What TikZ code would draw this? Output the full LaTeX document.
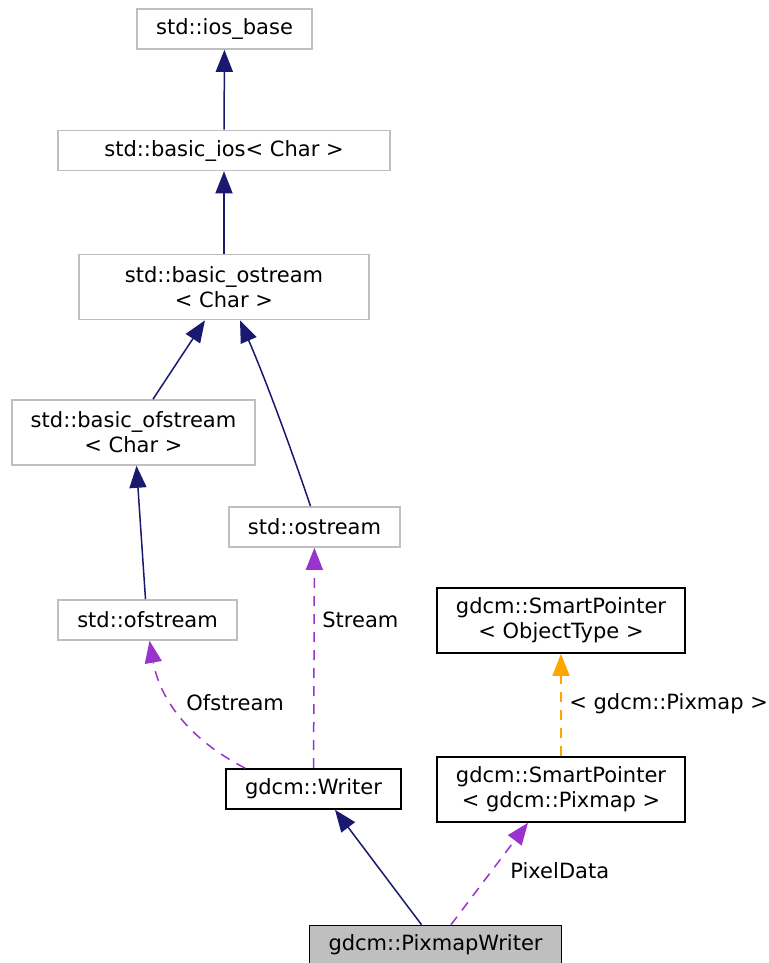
\documentclass[tikz,border=0pt]{standalone}
\usepackage{fontspec}
\setmainfont{DejaVu Sans}
\usetikzlibrary{arrows.meta}
\definecolor{edgenavy}{HTML}{191970}
\definecolor{edgepurple}{HTML}{9A32CD}
\definecolor{edgeorange}{HTML}{FFA500}
\definecolor{boxgray}{HTML}{BFBFBF}
\begin{document}
\begin{tikzpicture}[x=0.5pt, y=-0.5pt,
  every node/.style={font=\fontsize{10.5pt}{12.5pt}\selectfont},
  cls/.style={draw=boxgray, line width=0.8pt, inner xsep=9.5pt, minimum height=20pt, align=center},
  cls2/.style={cls, minimum height=32.5pt},
  doc/.style={cls, draw=black},
  doc2/.style={cls2, draw=black},
  inherit/.style={edgenavy, line width=0.75pt, -{Triangle[length=11pt, width=8.5pt]}},
  usage/.style={edgepurple, line width=0.75pt, dash pattern=on 5pt off 4pt, -{Triangle[length=11pt, width=8.5pt]}},
  templ/.style={edgeorange, line width=0.75pt, dash pattern=on 5pt off 4pt, -{Triangle[length=11pt, width=8.5pt]}},
  lbl/.style={anchor=west, inner sep=0pt}]
  \useasboundingbox (0,0) rectangle (768,963);

  % std classes
  \node[cls] (iosbase) at (224.5,29) {std::ios\_base};
  \node[cls, minimum width=166pt] (basicios) at (224,150.5) {std::basic\_ios< Char >};
  \node[cls2, minimum width=145pt] (basicostream) at (224,287) {std::basic\_ostream\\< Char >};
  \node[cls2] (basicofstream) at (133.5,432.5) {std::basic\_ofstream\\< Char >};
  \node[cls] (ostream) at (314.5,527) {std::ostream};
  \node[cls] (ofstream) at (147.5,620) {std::ofstream};

  % gdcm classes
  \node[doc] (writer) at (313.5,789) {gdcm::Writer};
  \node[doc2] (spobject) at (561,620.5) {gdcm::SmartPointer\\< ObjectType >};
  \node[doc2] (sppixmap) at (561,789.5) {gdcm::SmartPointer\\< gdcm::Pixmap >};
  \node[doc, fill=boxgray, minimum height=19pt] (pixmapwriter) at (435.5,944.5) {gdcm::PixmapWriter};

  % inheritance
  \draw[inherit] (basicios) -- (iosbase);
  \draw[inherit] (basicostream) -- (basicios);
  \draw[inherit] ([xshift=9.75pt]basicofstream.north) -- ([xshift=-9.5pt]basicostream.south);
  \draw[inherit] ([xshift=-2pt]ostream.north) .. controls (295,460) and (268,385) .. ([xshift=8pt]basicostream.south);
  \draw[inherit] ([xshift=-1pt]ofstream.north) -- ([xshift=1.5pt]basicofstream.south);
  \draw[inherit] ([xshift=-7pt]pixmapwriter.north) -- ([xshift=10.75pt]writer.south);

  % members
  \draw[usage] ([xshift=10pt]writer.north west) .. controls (190,740) and (160,700) .. ([xshift=1pt]ofstream.south);
  \node[lbl] (ofstreamlbl) at (186,703) {Ofstream};
  \draw[usage] (writer) -- (ostream);
  \node[lbl] (streamlbl) at (322,620) {Stream};
  \draw[usage] ([xshift=7.75pt]pixmapwriter.north) -- ([xshift=-16.5pt]sppixmap.south);
  \node[lbl] (pixeldatalbl) at (510,871) {PixelData};

  % template
  \draw[templ] (sppixmap) -- (spobject);
  \node[lbl] (templlbl) at (569,704) {< gdcm::Pixmap >};
\end{tikzpicture}
\end{document}
